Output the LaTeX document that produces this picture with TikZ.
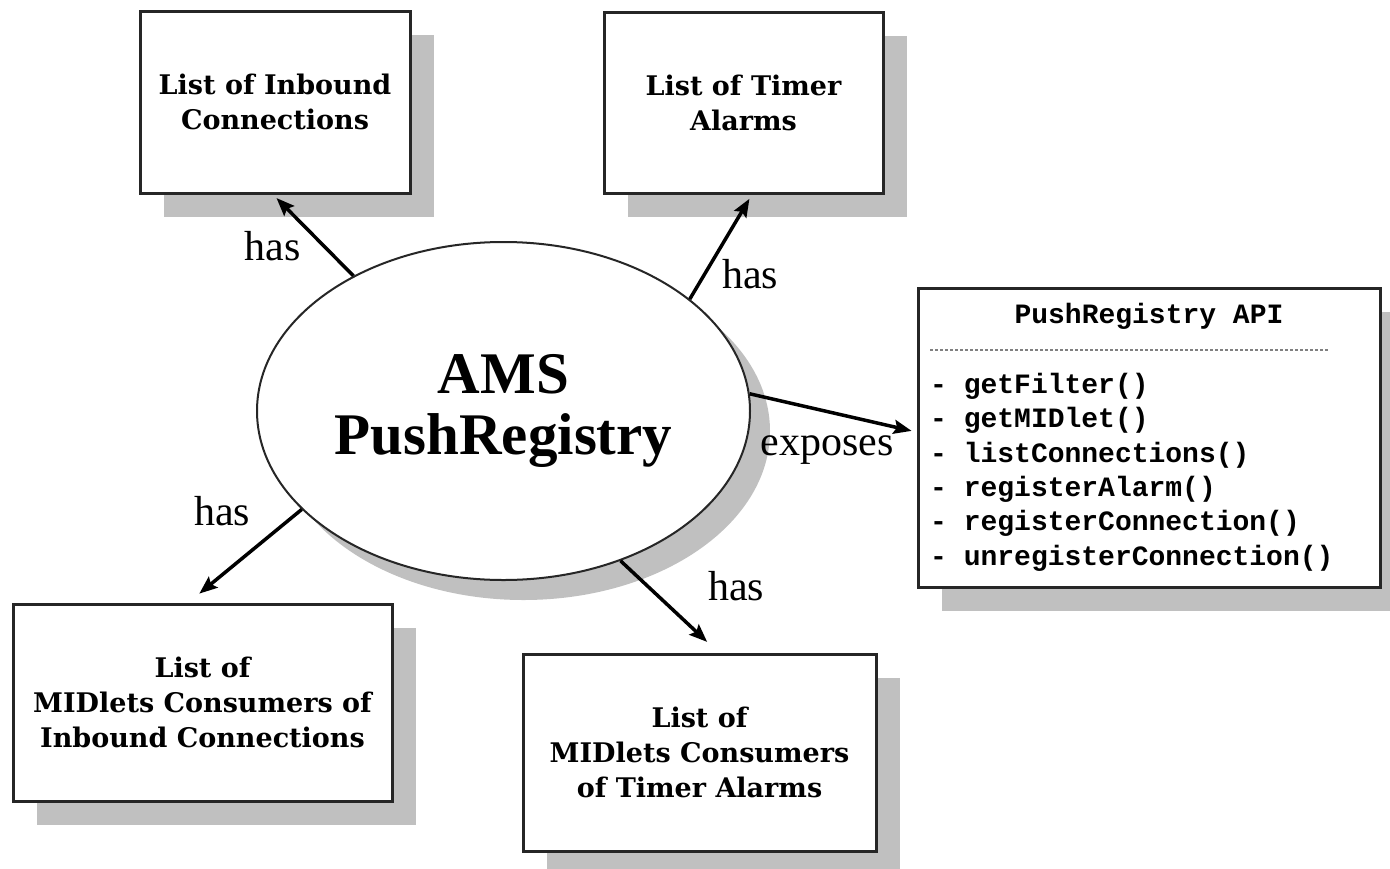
\documentclass[tikz,border=0pt]{standalone}
\usepackage{fontspec}
\setmainfont{Liberation Serif}
\newfontfamily\boxserif{DejaVu Serif}
\newfontfamily\apimono{Liberation Mono}
\usetikzlibrary{arrows.meta,shadows,shapes.geometric}
\definecolor{shadowgray}{RGB}{192,192,192}
\newcommand\boxtextfont{\boxserif\bfseries\fontsize{27}{35}\selectfont}
\newcommand\apitextfont{\apimono\bfseries\fontsize{28}{34}\selectfont}
\newcommand\labelfont{\fontsize{42}{46}\selectfont}
\newcommand\centerfont{\bfseries\fontsize{59}{61}\selectfont}
\begin{document}
\begin{tikzpicture}[x=1pt,y=-1pt,
  boxshadow/.style={drop shadow={shadow xshift=24pt, shadow yshift=-24pt, fill=shadowgray, opacity=1}},
  listbox/.style={draw=black!85, line width=3pt, fill=white, inner sep=0pt, align=center, font=\boxtextfont, boxshadow},
  hub/.style={ellipse, draw=black!85, line width=2pt, fill=white, inner sep=0pt, align=center, font=\centerfont,
    minimum width=493pt, minimum height=338pt,
    drop shadow={shadow xshift=20pt, shadow yshift=-20pt, fill=shadowgray, opacity=1}},
  rel/.style={draw=black, line width=3.5pt, -{Stealth[length=18pt,width=14pt,inset=3pt]}},
  rellabel/.style={anchor=base, inner sep=0pt, font=\labelfont},
  apiline/.style={anchor=base west, inner sep=0pt, font=\apitextfont}
]
\useasboundingbox (0,0) rectangle (1390,868);

% boxes
\node[listbox, minimum width=270pt, minimum height=182pt] (b1) at (275,102) {List of Inbound\\Connections};
\node[listbox, minimum width=279pt, minimum height=181pt] (b2) at (743.5,102.5) {List of Timer\\Alarms};
\node[listbox, minimum width=379pt, minimum height=197pt] (b4) at (202.5,702.5) {List of\\MIDlets Consumers of\\Inbound Connections};
\node[listbox, minimum width=353pt, minimum height=197pt] (b5) at (699.5,752.5) {List of\\MIDlets Consumers\\of Timer Alarms};
\node[listbox, minimum width=462pt, minimum height=299pt] (api) at (1149,437.5) {};

% API contents
\node[anchor=base, inner sep=0pt, font=\apitextfont] (apititle) at (1149,323) {PushRegistry API};
\coordinate (dashL) at (930,350);
\coordinate (dashR) at (1328,350);
\draw[gray, line width=1.8pt, dash pattern=on 3pt off 2pt] (dashL) -- (dashR);
\node[apiline] (m1) at (930,393) {- getFilter()};
\node[apiline] (m2) at (930,427.5) {- getMIDlet()};
\node[apiline] (m3) at (930,462) {- listConnections()};
\node[apiline] (m4) at (930,496) {- registerAlarm()};
\node[apiline] (m5) at (930,530.5) {- registerConnection()};
\node[apiline] (m6) at (930,565) {- unregisterConnection()};

% hub
\node[hub] (ams) at (503.5,411) {AMS\\PushRegistry};

% connectors
\draw[rel, shorten >=5pt] (ams.138.5) -- ([xshift=-2pt]b1.south);
\draw[rel, shorten >=5pt] (ams.31) -- ([xshift=8.5pt]b2.south);
\draw[rel, shorten >=5pt] (ams.4.4) -- ([yshift=5.5pt]api.west);
\draw[rel, shorten >=14pt] (ams.206.7) -- ([xshift=-14pt]b4.north);
\draw[rel, shorten >=15.5pt] (ams.308.4) -- ([xshift=19pt]b5.north);

% labels
\node[rellabel] (l1) at (272.5,260) {has};
\node[rellabel] (l2) at (750,288) {has};
\node[rellabel] (l3) at (827,455) {exposes};
\node[rellabel] (l4) at (222,525) {has};
\node[rellabel] (l5) at (736,600) {has};
\end{tikzpicture}
\end{document}
